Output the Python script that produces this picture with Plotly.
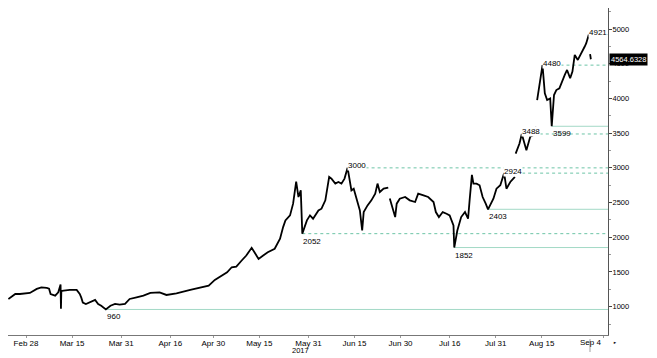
import plotly.graph_objects as go
import pandas as pd

# ---- price series ----
dates = [
    "2017-02-22 06:00", "2017-02-24 12:00", "2017-02-26 00:00", "2017-02-28 00:00",
    "2017-03-01 06:00", "2017-03-03 12:00", "2017-03-05 00:00", "2017-03-06 18:00",
    "2017-03-07 12:00", "2017-03-08 00:00", "2017-03-09 12:00", "2017-03-10 12:00",
    "2017-03-11 06:00", "2017-03-11 09:00", "2017-03-11 12:00", "2017-03-12 06:00",
    "2017-03-14 06:00", "2017-03-16 12:00", "2017-03-17 12:00", "2017-03-18 00:00",
    "2017-03-18 12:00", "2017-03-19 12:00", "2017-03-20 18:00", "2017-03-22 12:00",
    "2017-03-23 12:00", "2017-03-24 12:00", "2017-03-26 00:00", "2017-03-27 12:00",
    "2017-03-29 00:00", "2017-03-30 12:00", "2017-04-01 06:00", "2017-04-02 18:00",
    "2017-04-05 00:00", "2017-04-07 06:00", "2017-04-09 12:00", "2017-04-11 12:00",
    "2017-04-12 12:00", "2017-04-14 18:00", "2017-04-18 00:00", "2017-04-22 12:00",
    "2017-04-25 18:00", "2017-04-28 12:00", "2017-04-30 12:00", "2017-05-02 06:00",
    "2017-05-04 12:00", "2017-05-06 00:00", "2017-05-07 12:00", "2017-05-09 06:00",
    "2017-05-10 18:00", "2017-05-12 12:00", "2017-05-13 18:00", "2017-05-14 18:00",
    "2017-05-16 06:00", "2017-05-17 18:00", "2017-05-20 00:00", "2017-05-21 18:00",
    "2017-05-22 18:00", "2017-05-23 12:00", "2017-05-25 00:00", "2017-05-26 00:00",
    "2017-05-27 00:00", "2017-05-27 18:00", "2017-05-28 12:00", "2017-05-29 00:00",
    "2017-05-30 12:00", "2017-05-31 12:00", "2017-06-01 12:00", "2017-06-03 06:00",
    "2017-06-04 06:00", "2017-06-05 12:00", "2017-06-06 18:00", "2017-06-07 12:00",
    "2017-06-08 18:00", "2017-06-09 18:00", "2017-06-10 18:00", "2017-06-11 18:00",
    "2017-06-12 18:00", "2017-06-13 12:00", "2017-06-14 00:00", "2017-06-14 18:00",
    "2017-06-15 18:00", "2017-06-16 18:00", "2017-06-17 12:00", "2017-06-18 00:00",
    "2017-06-19 06:00", "2017-06-20 12:00", "2017-06-21 18:00", "2017-06-22 12:00",
    "2017-06-23 06:00", "2017-06-24 12:00", "2017-06-26 00:00", "2017-06-26 06:00",
    "2017-06-26 12:00", "2017-06-27 12:00", "2017-06-28 06:00", "2017-06-28 18:00",
    "2017-06-29 18:00", "2017-07-01 12:00", "2017-07-03 00:00", "2017-07-04 18:00",
    "2017-07-05 18:00", "2017-07-07 12:00", "2017-07-09 00:00", "2017-07-10 18:00",
    "2017-07-11 12:00", "2017-07-12 12:00", "2017-07-13 18:00", "2017-07-15 00:00",
    "2017-07-16 00:00", "2017-07-17 06:00", "2017-07-17 12:00", "2017-07-18 12:00",
    "2017-07-19 18:00", "2017-07-21 00:00", "2017-07-22 00:00", "2017-07-22 12:00",
    "2017-07-23 06:00", "2017-07-23 18:00", "2017-07-24 18:00", "2017-07-25 18:00",
    "2017-07-26 18:00", "2017-07-27 18:00", "2017-07-28 12:00", "2017-07-30 06:00",
    "2017-07-31 06:00", "2017-08-01 12:00", "2017-08-02 18:00", "2017-08-03 12:00",
    "2017-08-04 18:00", "2017-08-06 06:00", "2017-08-06 09:00", "2017-08-06 12:00",
    "2017-08-07 18:00", "2017-08-08 12:00", "2017-08-10 00:00", "2017-08-11 06:00",
    "2017-08-12 06:00", "2017-08-13 06:00", "2017-08-13 09:00", "2017-08-13 12:00",
    "2017-08-14 06:00", "2017-08-15 06:00", "2017-08-16 00:00", "2017-08-16 18:00",
    "2017-08-17 18:00", "2017-08-18 06:00", "2017-08-19 00:00", "2017-08-19 18:00",
    "2017-08-20 18:00", "2017-08-21 12:00", "2017-08-22 12:00", "2017-08-23 06:00",
    "2017-08-24 06:00", "2017-08-25 00:00", "2017-08-25 18:00", "2017-08-26 18:00",
    "2017-08-28 00:00", "2017-08-29 00:00", "2017-08-29 12:00", "2017-08-30 08:00",
    "2017-08-30 14:00", "2017-08-30 18:00", "2017-08-31 00:00",
]
prices = [
    1111, 1183, 1183, 1190,
    1198, 1256, 1279, 1270,
    1260, 1183, 1159, 1207,
    1318, 971, 1225, 1231,
    1241, 1241, 1183, 1130,
    1060, 1039, 1062, 1097,
    1039, 1014, 960, 1014,
    1039, 1030, 1039, 1111,
    1135, 1159, 1200, 1207,
    1207, 1169, 1193, 1241,
    1270, 1303, 1386, 1434,
    1496, 1568, 1578, 1665,
    1737, 1848, 1762, 1689,
    1737, 1785, 1834, 1978,
    2146, 2243, 2315, 2484,
    2800, 2580, 2676, 2052,
    2243, 2315, 2267, 2387,
    2412, 2532, 2869, 2845,
    2773, 2797, 2773, 2845,
    3000, 2773, 2676, 2700,
    2532, 2387, 2098, 2363,
    2459, 2532, 2628, 2773,
    2652, 2700, 2715, None,
    2560, 2412, 2291, 2484,
    2556, 2580, 2532, 2508,
    2628, 2604, 2580, 2508,
    2363, 2291, 2363, 2339,
    2315, 2170, 1852, 2098,
    2291, 2363, 2267, 2532,
    2900, 2773, 2773, 2749,
    2580, 2484, 2403, 2556,
    2700, 2749, 2924, 2700,
    2797, 2870, None, 3206,
    3351, 3488, 3254, 3447,
    3471, 3591, None, 3977,
    4169, 4480, 4073, 3977,
    4001, 3599, 4049, 4121,
    4145, 4242, 4338, 4410,
    4290, 4386, 4627, 4555,
    4651, 4748, 4796, 4921,
    None, 4640, 4564.6328,
]
last_price = 4564.6328

# ---- marked levels ----
low_dates = ["2017-03-26 00:00", "2017-05-29 00:00", "2017-07-17 12:00",
             "2017-07-28 12:00", "2017-08-18 06:00"]
low_levels = [960, 2052, 1852, 2403, 3599]
low_solid = [True, False, True, True, True]

high_dates = ["2017-06-12 18:00", "2017-08-02 18:00", "2017-08-08 12:00",
              "2017-08-15 06:00", "2017-08-30 08:00"]
high_levels = [3000, 2924, 3488, 4480, 4921]
high_solid = [False, False, False, False, True]

# ---- axis ticks ----
tick_dates = ["2017-02-28", "2017-03-15", "2017-03-31", "2017-04-16", "2017-04-30",
              "2017-05-15", "2017-05-31", "2017-06-15", "2017-06-30", "2017-07-16",
              "2017-07-31", "2017-08-15", "2017-09-04"]
tick_labels = ["Feb 28", "Mar 15", "Mar 31", "Apr 16", "Apr 30", "May 15", "May 31",
               "Jun 15", "Jun 30", "Jul 16", "Jul 31", "Aug 15", "Sep 4"]
y_ticks = [1000, 1500, 2000, 2500, 3000, 3500, 4000, 4500, 5000]
year_label = "2017"

x_range = ["2017-02-22 03:00", "2017-09-05 14:00"]
y_range = [592, 5303]

FONT = "Liberation Sans, Arial, sans-serif"
SOLID_C = "#a3d9c6"
DASH_C = "#6cc4a6"

fig = go.Figure()
fig.add_trace(go.Scatter(
    x=pd.to_datetime(dates), y=prices, mode="lines",
    line=dict(color="black", width=1.8), connectgaps=False,
    hoverinfo="skip", showlegend=False, cliponaxis=False))

shapes = []
annotations = []
for d, v, s in zip(low_dates, low_levels, low_solid):
    shapes.append(dict(type="line", xref="x", yref="y", x0=d, x1=x_range[1], y0=v, y1=v,
                       line=dict(color=SOLID_C if s else DASH_C, width=1,
                                 dash="solid" if s else "3px,3px"), layer="below"))
    annotations.append(dict(x=d, y=v, xref="x", yref="y", text=str(v), showarrow=False,
                            xanchor="left", yanchor="top", yshift=-1, xshift=-1,
                            font=dict(family=FONT, size=8, color="black")))
for d, v, s in zip(high_dates, high_levels, high_solid):
    shapes.append(dict(type="line", xref="x", yref="y", x0=d, x1=x_range[1], y0=v, y1=v,
                       line=dict(color=SOLID_C if s else DASH_C, width=1,
                                 dash="solid" if s else "3px,3px"), layer="below"))
    annotations.append(dict(x=d, y=v, xref="x", yref="y", text=str(v), showarrow=False,
                            xanchor="left", yanchor="middle", yshift=2, xshift=-1,
                            bgcolor="white", borderpad=0,
                            font=dict(family=FONT, size=8, color="black")))

# last price tag
annotations.append(dict(x=1, y=last_price, xref="paper", yref="y",
                        text=f"{last_price:.4f}", showarrow=False,
                        xanchor="left", yanchor="middle", xshift=1,
                        bgcolor="black", borderpad=1,
                        font=dict(family=FONT, size=7.5, color="white")))
# Sep 4 label (shifted left to fit, as in the reference) and year label
annotations.append(dict(x=0.97, y=0, xref="paper", yref="paper", text=tick_labels[-1],
                        showarrow=False, xanchor="center", yanchor="top", yshift=-1,
                        font=dict(family=FONT, size=8, color="black")))
annotations.append(dict(x=0.4867, y=0, xref="paper", yref="paper", text=year_label,
                        showarrow=False, xanchor="center", yanchor="top", yshift=-9,
                        font=dict(family=FONT, size=7.5, color="black")))
annotations.append(dict(x=1, y=0, xref="paper", yref="paper", text="►",
                        showarrow=False, xanchor="left", yanchor="top", xshift=3, yshift=-3,
                        font=dict(family=FONT, size=4, color="black")))
shapes.append(dict(type="line", xref="paper", yref="paper", x0=0.97, x1=0.97,
                   y0=-0.012, y1=-0.052, line=dict(color="#d0d0d0", width=2)))

# the page body adds an 8px offset; size the figure so it fits the 657x358 window
fig.update_layout(
    width=649, height=350,
    margin=dict(l=0, r=49, t=0, b=23),
    paper_bgcolor="white", plot_bgcolor="white",
    shapes=shapes, annotations=annotations,
    xaxis=dict(type="date", range=x_range, tickvals=tick_dates,
               ticktext=tick_labels[:-1] + [""], showgrid=False, zeroline=False,
               showline=True, linecolor="#777", linewidth=1,
               ticks="outside", ticklen=2, tickcolor="#999", ticklabelstandoff=-2,
               tickfont=dict(family=FONT, size=8, color="black")),
    yaxis=dict(side="right", range=y_range, tickvals=y_ticks, showgrid=False,
               zeroline=False, showline=True, linecolor="#555", linewidth=1,
               ticks="outside", ticklen=3, tickcolor="#444", ticklabelstandoff=-1,
               minor=dict(dtick=250, tick0=0, ticks="outside", ticklen=2, tickcolor="#999"),
               tickfont=dict(family=FONT, size=7.5, color="black")),
)

fig.write_html("out.html")
